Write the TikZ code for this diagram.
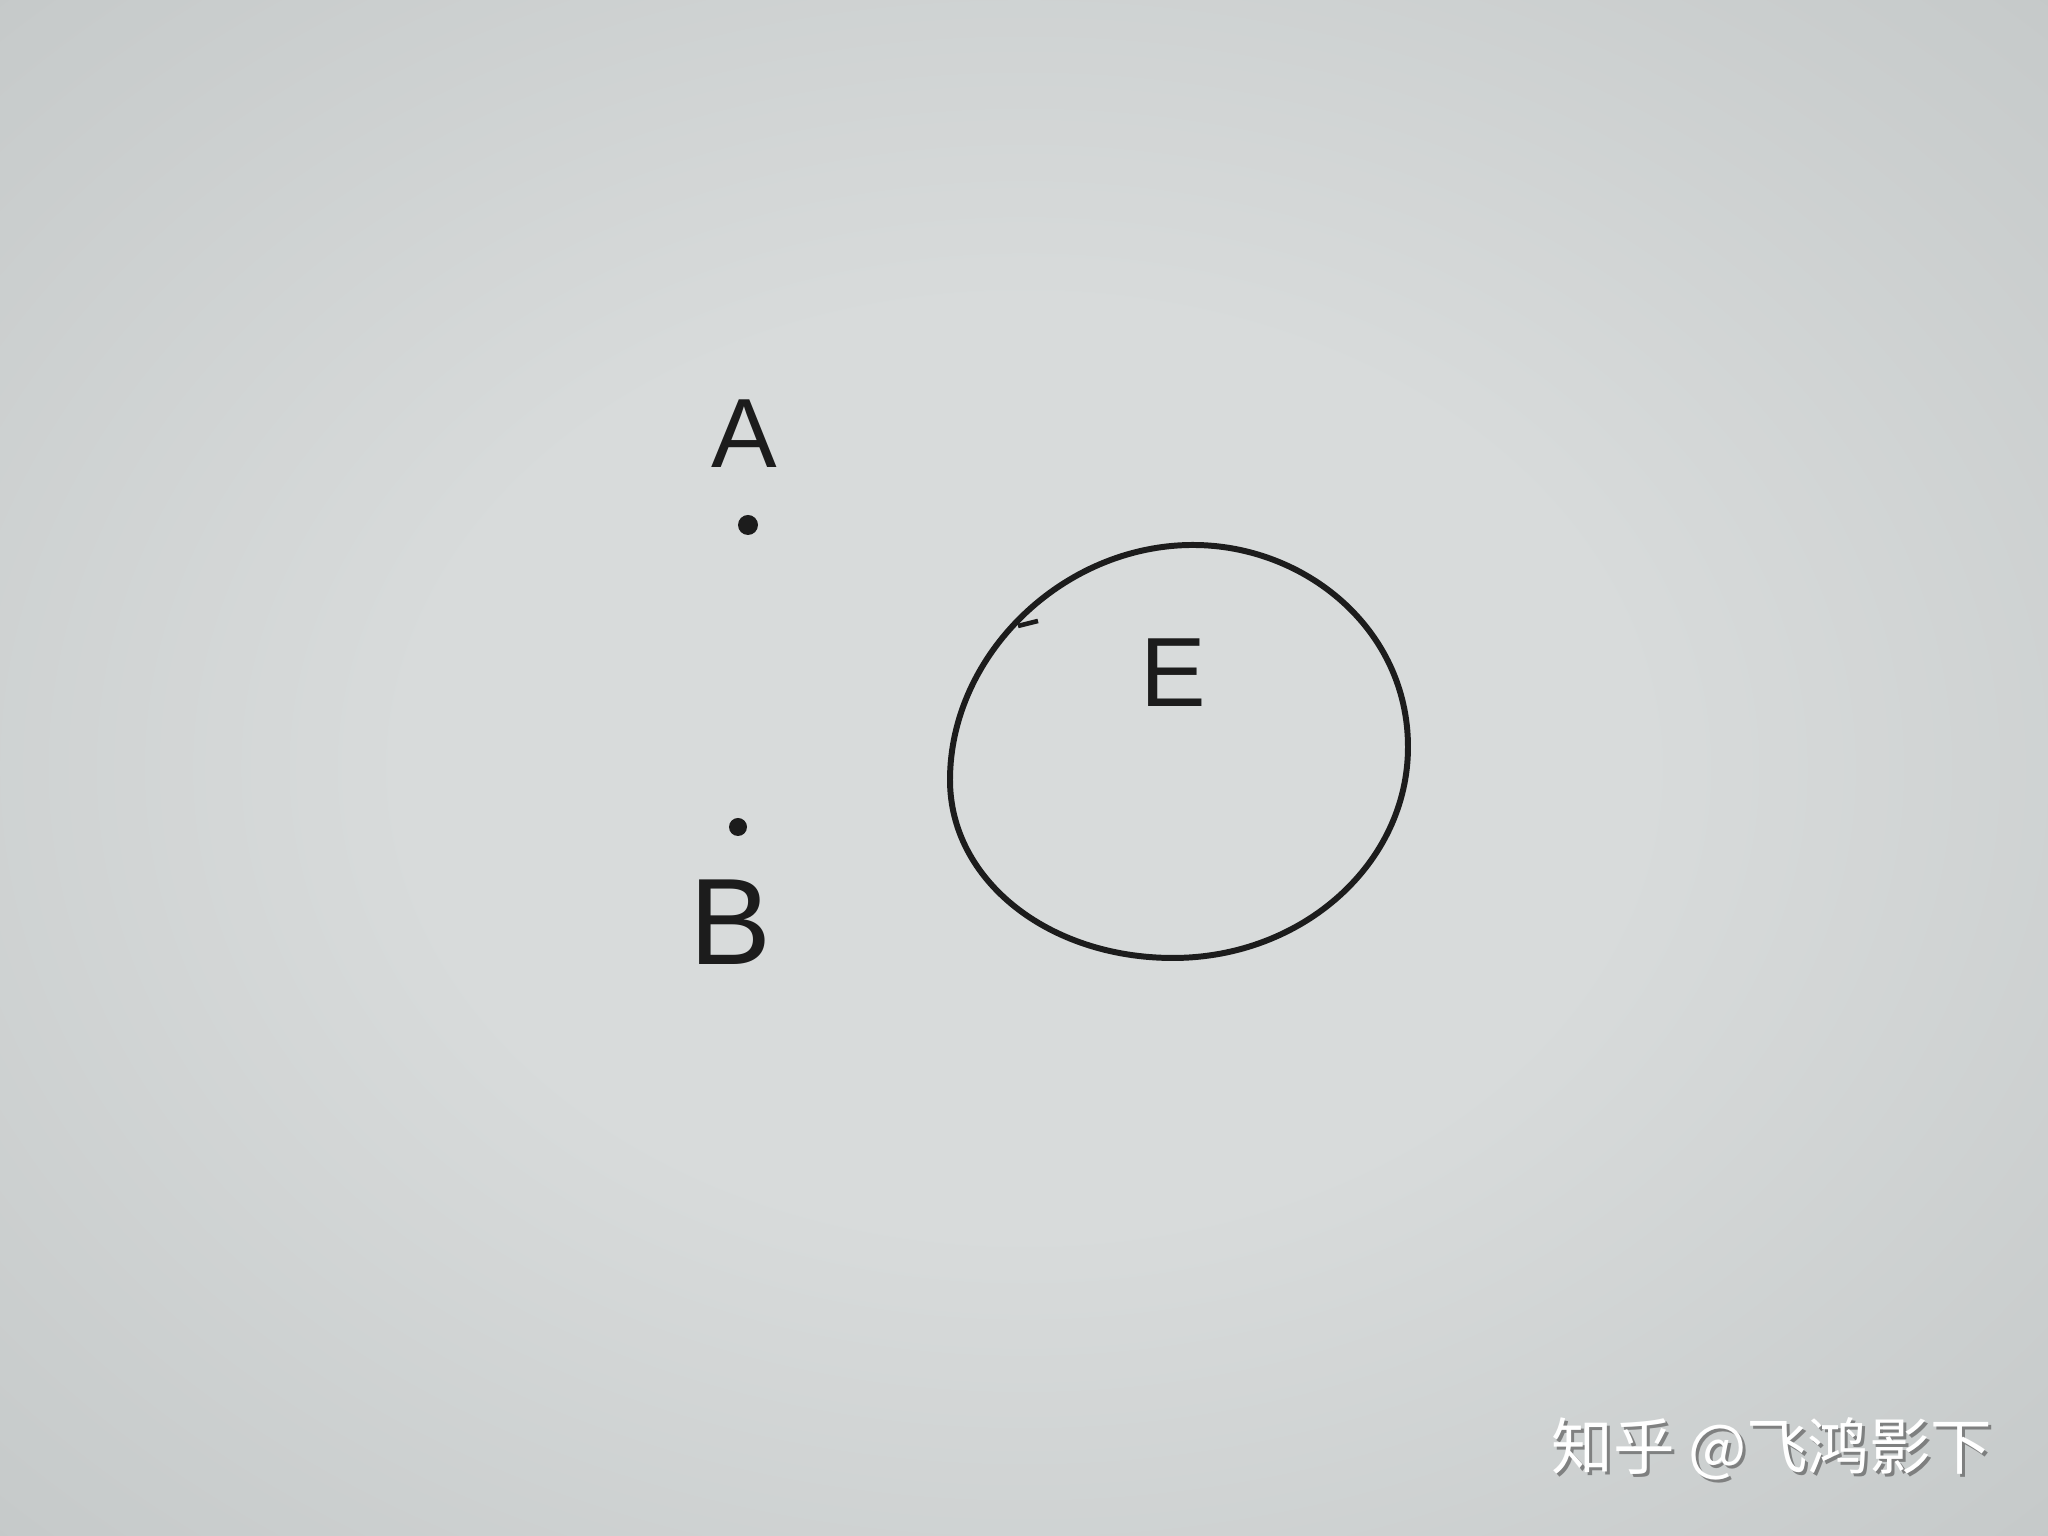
\documentclass[tikz,border=0pt]{standalone}
\usepackage{fontspec}
\setmainfont{Liberation Sans}
\newfontfamily\cjk{Noto Sans CJK SC}
\usetikzlibrary{shapes.geometric, positioning}
\definecolor{ink}{RGB}{28,28,28}
\definecolor{paperin}{RGB}{216,219,219}
\definecolor{papermid}{RGB}{198,202,202}
\definecolor{paperout}{RGB}{160,165,165}
\pgfdeclareradialshading{paper}{\pgfpoint{0bp}{0bp}}{color(0bp)=(paperin); color(15bp)=(paperin); color(35bp)=(papermid); color(50bp)=(paperout)}
\tikzstyle{letter} = [text=ink, inner sep=0pt, font=\fontsize{28}{28}\selectfont]
\tikzstyle{bigletter} = [text=ink, inner sep=0pt, font=\fontsize{35}{35}\selectfont]
\tikzstyle{dot} = [circle, fill=ink, inner sep=0pt, minimum size=0.2cm]
\tikzstyle{field} = [draw=ink, line width=1.7pt]
\tikzstyle{watermark} = [text=white, inner sep=0pt, font=\cjk\fontsize{17.5}{17.5}\selectfont]
\tikzstyle{wmshade} = [text=black!70, opacity=0.6, inner sep=0pt, font=\cjk\fontsize{17.5}{17.5}\selectfont]

\begin{document}
\begin{tikzpicture}[node distance=0.9cm]
    \shade[shading=paper] (0,0) rectangle (20.48,15.36);
    \useasboundingbox (0,0) rectangle (20.48,15.36);
    \node (dotA) [dot] at (7.48,10.11) {};
    \node (labA) [letter, above of=dotA, xshift=-0.04cm, yshift=0.01cm] {A};
    \node (dotB) [dot, minimum size=0.18cm] at (7.38,7.09) {};
    \node (labB) [bigletter, below of=dotB, xshift=-0.07cm, yshift=-0.05cm] {B};
    % the hand drawn region E
    \coordinate (E) at (11.79,7.84);
    \coordinate (Etop) at (11.93,9.91);
    \coordinate (Eleft) at (9.50,7.56);
    \coordinate (Ebot) at (11.73,5.78);
    \coordinate (Eright) at (14.08,7.89);
    \draw [field] (Etop) .. controls +(-1.3,0) and +(0,1.25) .. (Eleft)
        .. controls +(0,-1.0) and +(-1.25,0) .. (Ebot)
        .. controls +(1.3,0) and +(0,-1.16) .. (Eright)
        .. controls +(0,1.18) and +(1.12,0) .. (Etop) -- cycle;
    \node (labE) [letter, above of=E, xshift=-0.06cm, yshift=-0.11cm] {E};
    \coordinate (tick) at (10.18,9.10);
    \draw [ink, line width=1.3pt] (tick) -- ++(0.2,0.05);
    \node (wmshadow) [wmshade] at (17.75,0.84) {知乎 @飞鸿影下};
    \node (wm) [watermark] at (17.72,0.87) {知乎 @飞鸿影下};

\end{tikzpicture}
\end{document}
